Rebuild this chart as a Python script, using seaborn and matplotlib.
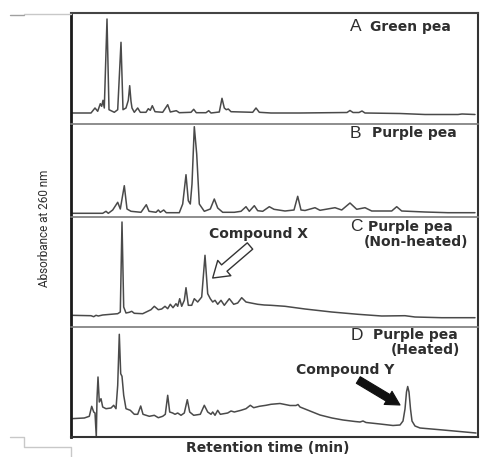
import numpy as np
import pandas as pd
import matplotlib
matplotlib.use("Agg")
import matplotlib.pyplot as plt
import seaborn as sns
from matplotlib.lines import Line2D

# ---------------- data (retention time, absorbance in arbitrary units) ----------------
a_time = [0, 2.0, 2.4, 2.67, 2.93, 3.07, 3.2, 3.33, 3.6, 3.8, 4.33, 4.67, 5.0, 5.2, 5.5, 5.73,
          5.87, 6.0, 6.1, 6.33, 6.67, 6.93, 7.5, 7.73, 7.93, 8.13, 8.4, 9.17, 9.67, 9.93, 10.53,
          10.83, 12.0, 12.27, 12.53, 13.5, 13.77, 14.0, 14.83, 15.1, 15.33, 15.53, 15.73, 16.0,
          18.17, 18.5, 18.83, 20.0, 22.9, 27.6, 27.9, 28.2, 28.8, 29.1, 29.4, 32.9, 35.4, 37.4,
          38.7, 39.1, 40.4]
a_abs = [11, 11, 16, 12.7, 20.3, 17.7, 23.7, 16, 105, 14.3, 11.7, 14.3, 81.7, 14.3, 16, 23.7,
         38.3, 22.7, 16, 11.7, 16, 11.7, 11.7, 15.3, 13.7, 18.3, 12.3, 11.7, 19.3, 12, 13.3,
         11.3, 11.7, 14.7, 11.3, 11.3, 13.3, 11, 12, 25.7, 16, 14.3, 15, 12.3,
         11.7, 16, 11.7, 11, 11, 11.5, 13.5, 11.5, 11.5, 13, 11, 10.5, 9.5, 9.5,
         9.5, 10, 9.5]

b_time = [0, 3.17, 3.5, 3.73, 4.17, 4.67, 4.93, 5.33, 5.6, 6.0, 7.0, 7.53, 7.8, 8.5, 8.73, 8.93,
          9.27, 9.53, 10.83, 11.17, 11.5, 11.73, 11.93, 12.1, 12.33, 12.57, 12.83, 13.33, 13.93,
          14.33, 14.67, 15.17, 16.33, 17.0, 17.5, 17.83, 18.33, 18.67, 19.17, 19.83, 20.3, 21.4,
          22.3, 22.67, 23.0, 23.4, 24.4, 24.9, 26.4, 27.07, 27.9, 28.57, 29.4, 30.07, 32.07,
          32.57, 33.07, 35.4, 37.7, 40.4]
b_abs = [3.7, 3.7, 5.7, 3.7, 7, 14.7, 8, 31.3, 8, 5.7, 4.7, 12.3, 5.7, 4.7, 7, 4.7,
         7, 4.3, 4.3, 13, 42.3, 16.3, 13, 33, 90.3, 63, 13, 5.7, 8,
         18, 9, 4.7, 4.7, 5.7, 10.3, 5.7, 11.3, 6.3, 5.7, 10.3, 7.7, 6,
         7, 20.7, 7, 6.5, 9.3, 6.7, 9.3, 7, 14, 7.7, 9.3, 6, 6,
         10.3, 6, 5, 4.3, 4.3]

c_time = [0, 2.0, 2.27, 2.5, 2.73, 3.17, 4.67, 4.93, 5.1, 5.27, 5.5, 5.83, 6.07, 6.33, 7.17,
          8.0, 8.33, 8.73, 9.07, 9.4, 9.67, 9.93, 10.2, 10.5, 10.67, 10.87, 11.07, 11.33, 11.5,
          11.73, 12.07, 12.33, 12.67, 13.07, 13.4, 13.67, 13.93, 14.17, 14.4, 14.67, 15.0, 15.33,
          15.83, 16.27, 16.67, 17.07, 17.5, 18.0, 18.67, 19.33, 20.0, 21.4, 23.4, 26.07, 28.7,
          31.07, 33.4, 34.4, 37.07, 40.4]
c_abs = [11.7, 11.3, 10.3, 11.7, 11, 12, 13.3, 15, 105, 20, 14, 14.7, 15.7, 13.7, 13.3,
         17.3, 20.7, 17.3, 18, 20.7, 18.3, 22.7, 19.3, 23.3, 20.7, 28.3, 20.7, 26.7, 39.3,
         21.7, 21.7, 28.3, 25, 30, 71.7, 33.3, 28.3, 25, 26.7, 22.7, 26.7, 21.7,
         28.3, 22.7, 24, 29.3, 25, 24, 22.7, 22, 21.7, 20.7, 18, 15, 12.7,
         11, 11.3, 10, 9.3, 9.3]

d_time = [0, 1.33, 1.83, 2.07, 2.27, 2.4, 2.53, 2.6, 2.7, 2.83, 3.0, 3.17, 3.5, 4.0, 4.27, 4.5,
          4.67, 4.83, 4.97, 5.1, 5.27, 5.5, 5.93, 6.33, 6.67, 6.97, 7.2, 7.83, 8.33, 8.73, 9.17,
          9.43, 9.67, 9.87, 10.17, 10.4, 10.67, 11.0, 11.33, 11.63, 11.87, 12.27, 12.93, 13.33,
          13.67, 14.0, 14.17, 14.4, 14.67, 14.93, 15.67, 16.0, 16.33, 17.0, 17.5, 17.93, 18.27,
          18.83, 19.5, 20.0, 20.9, 21.9, 22.5, 22.7, 22.9, 23.9, 24.9, 26.1, 27.2, 28.4, 28.9,
          29.2, 29.5, 30.9, 32.2, 32.9, 33.2, 33.4, 33.55, 33.67, 33.8, 33.95, 34.1, 34.4, 34.9,
          37.2, 40.5]
d_abs = [18.3, 19, 20.7, 30.7, 25, 24, 0, 38.3, 60, 35, 38.3, 30, 28.3, 29, 31.7, 28.3,
         51.7, 102.7, 63.3, 60.7, 41.7, 28.3, 26.7, 22.7, 22.7, 31, 22.7, 20.7, 21.7, 19.3, 20.7,
         22.7, 41.7, 25, 24, 22.7, 24, 21.7, 24, 37.3, 25, 21.7, 22.7, 31.7,
         25, 22.7, 25, 21.7, 26.7, 22.7, 24, 26, 25, 26.7, 28.3, 31.7, 29.3,
         30.7, 31.7, 32.7, 33.5, 31.5, 31.5, 32.5, 30, 26, 22, 19, 17, 15.5, 15,
         16, 14.5, 13, 11.5, 12, 16, 28, 45, 50.5, 45, 28, 16, 11, 9,
         7, 4]

series = [(a_time, a_abs), (b_time, b_abs), (c_time, c_abs), (d_time, d_abs)]

# ---------------- figure ----------------
sns.set_theme(style="white")
plt.rcParams["font.family"] = ["DejaVu Sans"]

W, H = 481, 457
fig = plt.figure(figsize=(W / 100, H / 100), dpi=100)
X0, X1 = 71, 478
bounds = [(13, 124), (124, 217), (217, 327), (327, 437)]
TXT = "#2e2e2e"

axes = []
for i, ((top, bot), (t, a)) in enumerate(zip(bounds, series)):
    ax = fig.add_axes([X0 / W, 1 - bot / H, (X1 - X0) / W, (bot - top) / H])
    df = pd.DataFrame({"time": t, "abs": a})
    sns.lineplot(data=df, x="time", y="abs", ax=ax, color="#4a4a4a", lw=1.1,
                 estimator=None, sort=False)
    ax.set_xlim(0, 40.7)
    ax.set_ylim(0, bot - top)
    ax.set_xticks([]); ax.set_yticks([])
    ax.set_xlabel(""); ax.set_ylabel("")
    ax.patch.set_alpha(0)
    for s in ax.spines.values():
        s.set_visible(True)
    ax.spines["left"].set_color("#1a1a1a"); ax.spines["left"].set_linewidth(2.0)
    ax.spines["right"].set_color("#333333"); ax.spines["right"].set_linewidth(1.5)
    ax.spines["top"].set_color("#444444" if i == 0 else "#8a8a8a")
    ax.spines["top"].set_linewidth(1.5 if i == 0 else 1.1)
    ax.spines["bottom"].set_color("#333333" if i == 3 else "#8a8a8a")
    ax.spines["bottom"].set_linewidth(1.5 if i == 3 else 1.1)
    axes.append(ax)

def ft(x, y, s, **kw):
    kw.setdefault("color", TXT)
    fig.text(x / W, 1 - y / H, s, **kw)

letter_kw = dict(family=["Liberation Sans", "DejaVu Sans"], fontsize=12.5, va="center", ha="left")
label_kw = dict(fontsize=10, fontweight="bold", va="center")

ft(350, 26.5, "A", **letter_kw); ft(370, 26.5, "Green pea", ha="left", **label_kw)
ft(350, 133, "B", **letter_kw); ft(372, 133, "Purple pea", ha="left", **label_kw)
ft(350, 226.5, "C", **letter_kw); ft(368, 226.5, "Purple pea", ha="left", **label_kw)
ft(468, 242, "(Non-heated)", ha="right", **label_kw)
ft(351, 335.5, "D", **letter_kw); ft(373, 335.5, "Purple pea", ha="left", **label_kw)
ft(460, 350.5, "(Heated)", ha="right", **label_kw)
ft(259, 234, "Compound X", ha="center", **label_kw)
ft(345.5, 370, "Compound Y", ha="center", **label_kw)

ft(268, 448, "Retention time (min)", ha="center", **label_kw)
ft(45, 228, "Absorbance at 260 nm", ha="center", va="center", rotation=90,
   family=["Roboto", "Liberation Sans", "DejaVu Sans"], fontsize=8.5)

# arrows
axes[2].annotate("", xy=(14.17, 49), xytext=(17.9, 81),
                 arrowprops=dict(arrowstyle="simple,head_length=1.1,head_width=1.45,tail_width=0.6",
                                 fc="white", ec="#333333", lw=1.0, mutation_scale=10,
                                 shrinkA=0, shrinkB=0), annotation_clip=False)
axes[3].annotate("", xy=(32.9, 32), xytext=(28.73, 57),
                 arrowprops=dict(arrowstyle="simple,head_length=1.0,head_width=1.1,tail_width=0.55",
                                 fc="#111111", ec="#111111", lw=0.8, mutation_scale=10,
                                 shrinkA=0, shrinkB=0), annotation_clip=False)

# faint scan edge lines at the left margin
def fl(xs, ys, color="#c8c8c8", lw=1.0):
    fig.add_artist(Line2D([x / W for x in xs], [1 - y / H for y in ys],
                          transform=fig.transFigure, color=color, lw=lw))

fl([10, 24], [15, 15], color="#a0a0a0")
fl([24, 71], [14, 14])
fl([10, 24, 24, 71, 71], [437, 437, 447, 447, 457])

fig.savefig("out.png", dpi=100)
